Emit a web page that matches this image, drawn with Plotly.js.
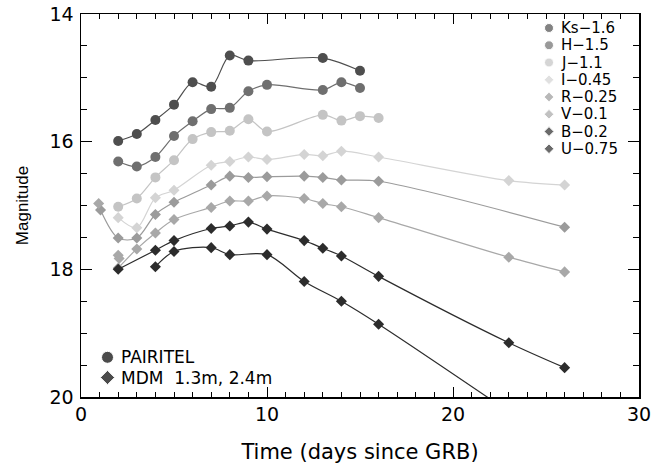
<!DOCTYPE html>
<html><head><meta charset="utf-8">
<script src="https://cdn.plot.ly/plotly-3.0.1.min.js"></script>
<style>html,body{margin:0;padding:0;background:#fff}#chart{width:652px;height:474px}</style>
</head><body><div id="chart"></div>
<script>
// ---- data (magnitudes already include the legend offsets) ----
const ksDays=[2,3,4,5,6,7,8,9,13,15];
const ksMag=[15.99,15.88,15.66,15.42,15.07,15.14,14.65,14.73,14.69,14.89];
const hDays=[2,3,4,5,6,7,8,9,10,13,14,15];
const hMag=[16.31,16.39,16.24,15.91,15.68,15.49,15.47,15.21,15.11,15.19,15.07,15.16];
const jDays=[2,3,4,5,6,7,8,9,10,13,14,15,16];
const jMag=[17.02,16.89,16.56,16.29,15.96,15.85,15.83,15.65,15.84,15.58,15.67,15.60,15.63];
const iDays=[2,3,4,5,7,8,9,10,12,13,14,16,23,26];
const iMag=[17.19,17.35,16.88,16.76,16.37,16.31,16.24,16.28,16.20,16.22,16.15,16.24,16.61,16.68];
const rDays=[1.05,2,3,4,5,7,8,9,10,12,13,14,16,26];
const rMag=[17.07,17.51,17.51,17.14,16.95,16.68,16.54,16.56,16.55,16.54,16.56,16.60,16.62,17.34];
const vDays=[2,3,4,5,7,8,9,10,12,13,14,16,23,26];
const vMag=[17.98,17.68,17.43,17.22,17.03,16.93,16.93,16.85,16.89,16.97,17.02,17.19,17.81,18.04];
const vExtraDays=[0.95,2,2.05];
const vExtraMag=[16.97,17.78,17.83];
const bDays=[2,4,5,7,8,9,10,12,13,14,16,23,26];
const bMag=[18.00,17.70,17.55,17.36,17.32,17.26,17.37,17.55,17.67,17.79,18.11,19.15,19.54];
const uDays=[4,5,7,8,10,12,14,16,23];
const uMag=[17.96,17.72,17.66,17.77,17.77,18.19,18.50,18.86,20.23];

const bandLabels=['Ks\u22121.6','H\u22121.5','J\u22121.1','I\u22120.45','R\u22120.25','V\u22120.1','B\u22120.2','U\u22120.75'];
const instLabels=['PAIRITEL','MDM  1.3m, 2.4m'];

// ---- styles ----
const colors={Ks:'#4e4e4e',H:'#6f6f6f',J:'#c4c4c4',I:'#d4d4d4',R:'#9b9b9b',V:'#a8a8a8',B:'#2c2c2c',U:'#2c2c2c'};
const bandColors=[colors.Ks,colors.H,colors.J,colors.I,colors.R,colors.V,colors.B,colors.U];
const bandSymbols=['circle','circle','circle','diamond','diamond','diamond','diamond','diamond'];
const FONT='DejaVu Sans';

function series(x,y,col,sym){
  return {x:x,y:y,type:'scatter',mode:'lines+markers',
    line:{color:col,width:1.2,shape:'spline',smoothing:0.9},
    marker:{symbol:sym,size:sym==='circle'?10:8.5,color:col,line:{width:0}},
    hoverinfo:'skip',showlegend:false,cliponaxis:true};
}
const traces=[
  series(ksDays,ksMag,colors.Ks,'circle'),
  series(hDays,hMag,colors.H,'circle'),
  series(jDays,jMag,colors.J,'circle'),
  series(iDays,iMag,colors.I,'diamond'),
  series(rDays,rMag,colors.R,'diamond'),
  series(vDays,vMag,colors.V,'diamond'),
  series(bDays,bMag,colors.B,'diamond'),
  series(uDays,uMag,colors.U,'diamond'),
  {x:vExtraDays,y:vExtraMag,type:'scatter',mode:'markers',
   marker:{symbol:'diamond',size:8.5,color:colors.V},hoverinfo:'skip',showlegend:false}
];

// ---- legend keys on an overlay axis measured in plot pixels ----
const TOP=14, LEFT=81, PW=558, PH=383;
const keyX=468, keyY0=14, keyDY=17.25, keyTextX=478;
const keyYs=bandLabels.map((_,i)=>keyY0+keyDY*i);
traces.push({x:bandLabels.map(()=>keyX),y:keyYs,xaxis:'x2',yaxis:'y2',type:'scatter',mode:'markers',
  marker:{symbol:bandSymbols,size:bandSymbols.map(s=>s==='circle'?9:7.5),color:bandColors},
  hoverinfo:'skip',showlegend:false});
const instX=26.5, instYs=[343.3,363.5], instSymbols=['circle','diamond'];
traces.push({x:instLabels.map(()=>instX),y:instYs,xaxis:'x2',yaxis:'y2',type:'scatter',mode:'markers',
  marker:{symbol:instSymbols,size:[12,11],color:'#000'},hoverinfo:'skip',showlegend:false});

const annotations=bandLabels.map((t,i)=>({x:keyTextX,y:keyYs[i],xref:'x2',yref:'y2',text:t,showarrow:false,
  xanchor:'left',yanchor:'middle',font:{family:FONT,size:15,color:'#000'}}))
 .concat(instLabels.map((t,i)=>({x:38,y:instYs[i],xref:'x2',yref:'y2',text:t.replace(/ /g,'&nbsp;'),showarrow:false,
  xanchor:'left',yanchor:'middle',font:{family:FONT,size:17,color:'#000'}})));

const axisCommon={showline:true,linecolor:'#000',linewidth:1.5,mirror:'ticks',ticks:'inside',tickcolor:'#000',
  tickwidth:1,showgrid:false,zeroline:false,ticklabeloverflow:'allow',tickfont:{family:FONT,size:19,color:'#000'}};

const layout={
  width:652,height:474,margin:{l:LEFT,r:652-LEFT-PW,t:TOP,b:474-TOP-PH},
  paper_bgcolor:'#fff',plot_bgcolor:'#fff',showlegend:false,
  xaxis:Object.assign({},axisCommon,{range:[0,30],tick0:0,dtick:10,ticklen:10,ticklabelstandoff:0,
    minor:{dtick:1,ticks:'inside',ticklen:5,tickcolor:'#000',tickwidth:1},
    title:{text:'Time (days since GRB)',font:{family:FONT,size:21,color:'#000'},standoff:20}}),
  yaxis:Object.assign({},axisCommon,{range:[20,14],tick0:14,dtick:2,ticklen:11,ticklabelstandoff:2,
    minor:{dtick:0.5,ticks:'inside',ticklen:6,tickcolor:'#000',tickwidth:1},
    title:{text:'Magnitude',font:{family:'Liberation Sans',size:17,color:'#000'},standoff:16}}),
  xaxis2:{overlaying:'x',anchor:'y2',range:[0,PW],visible:false,fixedrange:true},
  yaxis2:{overlaying:'y',anchor:'x2',range:[PH,0],visible:false,fixedrange:true},
  annotations:annotations
};
Plotly.newPlot('chart',traces,layout,{displayModeBar:false,staticPlot:true});
</script></body></html>
